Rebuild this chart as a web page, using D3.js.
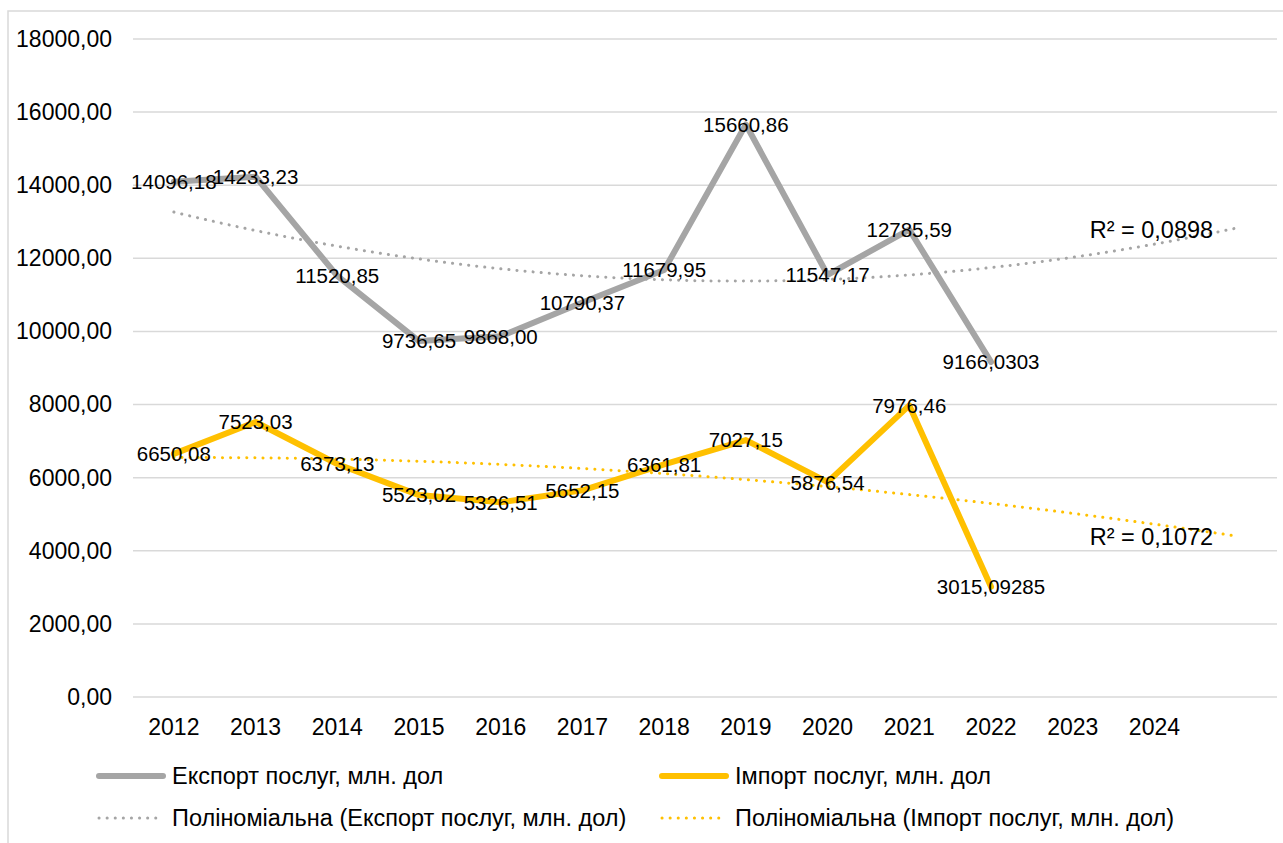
<!DOCTYPE html>
<html>
<head>
<meta charset="utf-8">
<script src="https://cdn.jsdelivr.net/npm/d3@7/dist/d3.min.js"></script>
<style>
  html, body { margin: 0; padding: 0; background: #fff; }
  svg { display: block; font-family: "Liberation Sans", Arial, sans-serif; }
</style>
</head>
<body>
<svg id="chart" width="1283" height="843"></svg>
<script>
// ---------- data ----------
const categories = ["2012","2013","2014","2015","2016","2017","2018","2019","2020","2021","2022","2023","2024"];
const exportValues = [14096.18, 14233.23, 11520.85, 9736.65, 9868.00, 10790.37, 11679.95, 15660.86, 11547.17, 12785.59, 9166.0303];
const importValues = [6650.08, 7523.03, 6373.13, 5523.02, 5326.51, 5652.15, 6361.81, 7027.15, 5876.54, 7976.46, 3015.09285];
const exportDecimals = [2,2,2,2,2,2,2,2,2,2,4];
const importDecimals = [2,2,2,2,2,2,2,2,2,2,5];
const yTicks = [0, 2000, 4000, 6000, 8000, 10000, 12000, 14000, 16000, 18000];
const seriesNames = ["Експорт послуг, млн. дол", "Імпорт послуг, млн. дол"];
const trendNames = ["Поліноміальна (Експорт послуг, млн. дол)", "Поліноміальна (Імпорт послуг, млн. дол)"];
const r2Labels = ["R² = 0,0898", "R² = 0,1072"];
const forecastPeriods = 1;

// ---------- layout ----------
const svg = d3.select("#chart");
const plot = { left: 133, right: 1277, top: 39, bottom: 697 };
const colors = { exp: "#A5A5A5", imp: "#FFC000", grid: "#D9D9D9", text: "#000" };

// chart border
svg.append("rect").attr("x", 8).attr("y", 11).attr("width", 1300).attr("height", 900)
  .attr("fill", "none").attr("stroke", colors.grid).attr("stroke-width", 1.5);

const slots = categories.concat(d3.range(forecastPeriods).map(i => "__f" + i));
const x = d3.scaleBand().domain(slots).range([plot.left, plot.right]).padding(0);
const xc = i => x(slots[i]) + x.bandwidth() / 2;
const y = d3.scaleLinear().domain([0, 18000]).range([plot.bottom, plot.top]);

// grid
svg.append("g").selectAll("line").data(yTicks).join("line")
  .attr("x1", plot.left).attr("x2", plot.right)
  .attr("y1", d => y(d)).attr("y2", d => y(d))
  .attr("stroke", colors.grid).attr("stroke-width", 1.5);

// y axis labels
const yAxis = d3.axisLeft(y).tickValues(yTicks).tickSize(0).tickPadding(0)
  .tickFormat(d => d3.format(".2f")(d).replace(".", ","));
const gy = svg.append("g").attr("transform", `translate(${112},0)`).call(yAxis);
gy.select(".domain").remove();
gy.selectAll("text").attr("font-size", 23).attr("fill", colors.text)
  .attr("font-family", "Liberation Sans, Arial, sans-serif");

// x axis labels
const xAxis = d3.axisBottom(x).tickSize(0).tickPadding(0)
  .tickFormat(d => d.startsWith("__") ? "" : d);
const gx = svg.append("g").attr("transform", `translate(0,${719})`).call(xAxis);
gx.select(".domain").remove();
gx.selectAll("text").attr("font-size", 23).attr("fill", colors.text)
  .attr("font-family", "Liberation Sans, Arial, sans-serif");

// polynomial (order 2) least squares fit
function polyFit(vals) {
  const n = vals.length;
  const xs = vals.map((_, i) => i + 1);
  const s = k => d3.sum(xs, v => Math.pow(v, k));
  const t = k => d3.sum(xs, (v, i) => Math.pow(v, k) * vals[i]);
  const A = [[n, s(1), s(2), t(0)], [s(1), s(2), s(3), t(1)], [s(2), s(3), s(4), t(2)]];
  for (let i = 0; i < 3; i++) {
    for (let j = i + 1; j < 3; j++) {
      const f = A[j][i] / A[i][i];
      for (let k = i; k < 4; k++) A[j][k] -= f * A[i][k];
    }
  }
  const c = [0, 0, 0];
  for (let i = 2; i >= 0; i--) {
    let sum = A[i][3];
    for (let k = i + 1; k < 3; k++) sum -= A[i][k] * c[k];
    c[i] = sum / A[i][i];
  }
  return xv => c[0] + c[1] * xv + c[2] * xv * xv;
}

const line = d3.line().x(d => d[0]).y(d => y(d[1]));

function drawTrend(vals, color) {
  const f = polyFit(vals);
  const pts = [];
  const steps = 200;
  const x0 = 1, x1 = slots.length;
  for (let k = 0; k <= steps; k++) {
    const xv = x0 + (x1 - x0) * k / steps;
    const px = xc(0) + (xv - 1) * x.bandwidth();
    pts.push([px, f(xv)]);
  }
  svg.append("path").attr("d", line(pts)).attr("fill", "none")
    .attr("stroke", color).attr("stroke-width", 3)
    .attr("stroke-dasharray", "0.1 8").attr("stroke-linecap", "round");
  return { endX: pts[pts.length - 1][0], endY: y(pts[pts.length - 1][1]) };
}

const tExp = drawTrend(exportValues, colors.exp);
const tImp = drawTrend(importValues, colors.imp);

function drawSeries(vals, color) {
  svg.append("path").attr("d", line(vals.map((v, i) => [xc(i), v])))
    .attr("fill", "none").attr("stroke", color).attr("stroke-width", 6)
    .attr("stroke-linejoin", "round").attr("stroke-linecap", "round");
}
drawSeries(exportValues, colors.exp);
drawSeries(importValues, colors.imp);

function fmt(v, dec) { return v.toFixed(dec).replace(".", ","); }
function drawLabels(vals, decs) {
  svg.append("g").selectAll("text").data(vals).join("text")
    .attr("x", (d, i) => xc(i)).attr("y", d => y(d))
    .attr("dy", "0.36em").attr("text-anchor", "middle")
    .attr("font-size", 20.5).attr("fill", colors.text)
    .text((d, i) => fmt(d, decs[i]));
}
drawLabels(exportValues, exportDecimals);
drawLabels(importValues, importDecimals);

// R² labels
[tExp, tImp].forEach((t, k) => {
  svg.append("text").attr("x", t.endX - 23).attr("y", t.endY + 1)
    .attr("dy", "0.36em").attr("text-anchor", "end")
    .attr("font-size", 23.5).attr("fill", colors.text).text(r2Labels[k]);
});

// legend
const legendItems = [
  { name: seriesNames[0], color: colors.exp, dotted: false, x: 97, y: 776 },
  { name: seriesNames[1], color: colors.imp, dotted: false, x: 660, y: 776 },
  { name: trendNames[0], color: colors.exp, dotted: true, x: 97, y: 818 },
  { name: trendNames[1], color: colors.imp, dotted: true, x: 660, y: 818 }
];
const lg = svg.append("g").selectAll("g").data(legendItems).join("g");
lg.append("line").attr("x1", d => d.x + 2).attr("x2", d => d.x + 66)
  .attr("y1", d => d.y).attr("y2", d => d.y)
  .attr("stroke", d => d.color)
  .attr("stroke-width", d => d.dotted ? 3 : 6)
  .attr("stroke-linecap", "round")
  .attr("stroke-dasharray", d => d.dotted ? "0.1 8" : null);
lg.append("text").attr("x", d => d.x + 75).attr("y", d => d.y)
  .attr("dy", "0.36em").attr("font-size", 23.5).attr("fill", colors.text)
  .text(d => d.name);
</script>
</body>
</html>
